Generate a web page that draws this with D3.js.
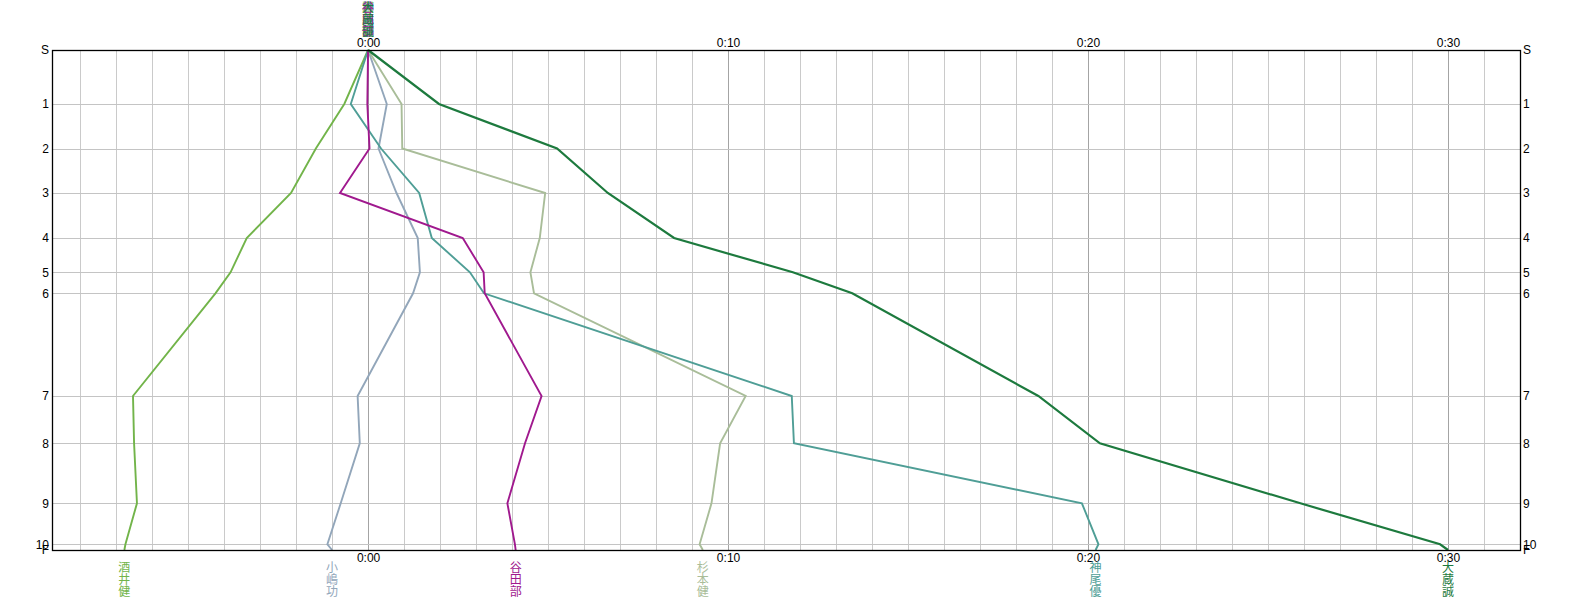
<!DOCTYPE html>
<html><head><meta charset="utf-8">
<script src="https://cdn.jsdelivr.net/npm/d3@7"></script>
<style>
html,body{margin:0;padding:0;background:#fff;}
svg{display:block;}
.tick text{font-family:"Liberation Sans",Arial,sans-serif;}
</style></head>
<body>
<svg id="chart" width="1572" height="600"></svg>
<script>
// checkpoints (cumulative course distance, m)
const checkpoints = ["S","1","2","3","4","5","6","7","8","9","10","F"];
const cumDist = [0,540,985,1430,1880,2223,2433,3460,3933,4533,4943,5000];
// runners
const runnerNames = ["酒井健","小嶋功","杉本健","神尾優","谷田部","大蔵誠"];
const runnerColors = ["#72b44a","#92a6ba","#a9bd99","#4f9e96","#a0198e","#1d7a3e"];
// time gap vs reference at each checkpoint (minutes)
const sakai    = [0,-0.66,-1.45,-2.14,-3.37,-3.82,-4.24,-6.53,-6.50,-6.42,-6.74,-6.77];
const kojima   = [0,0.52,0.29,0.79,1.38,1.44,1.25,-0.29,-0.23,-0.76,-1.13,-1.0];
const sugimoto = [0,0.93,0.95,4.92,4.77,4.51,4.61,10.49,9.78,9.54,9.21,9.3];
const kamio    = [0,-0.48,0.36,1.42,1.77,2.83,3.22,11.77,11.83,19.83,20.29,20.21];
const yatabe   = [0,-0.02,0.04,-0.78,2.63,3.21,3.24,4.82,4.36,3.87,4.08,4.1];
const okura    = [0,1.97,5.25,6.66,8.5,11.8,13.45,18.62,20.33,25.9,29.78,30.0];
const series = [sakai,kojima,sugimoto,kamio,yatabe,okura];
// time axis ticks
const tickValues = [0,10,20,30];
const tickLabels = ["0:00","0:10","0:20","0:30"];
const timeDomain = [-8.78,32];

const L=52,R=1520,T=50,B=550;
const svg=d3.select("#chart");
const x=d3.scaleLinear().domain(timeDomain).range([L,R]);
const y=d3.scaleLinear().domain([0,cumDist[cumDist.length-1]]).range([T,B]);

// vertical grid (every minute)
const minutes=d3.range(Math.ceil(timeDomain[0]),Math.floor(timeDomain[1])+1);
svg.append("g").selectAll("line").data(minutes).join("line")
  .attr("x1",d=>Math.round(x(d))+0.5).attr("x2",d=>Math.round(x(d))+0.5)
  .attr("y1",T).attr("y2",B)
  .attr("stroke",d=>d%10===0?"#a4a4a4":"#cacaca").attr("stroke-width",1);
// horizontal grid (checkpoints)
svg.append("g").selectAll("line").data(cumDist.slice(1,-1)).join("line")
  .attr("x1",L).attr("x2",R)
  .attr("y1",d=>Math.round(y(d))+0.5).attr("y2",d=>Math.round(y(d))+0.5)
  .attr("stroke","#c4c4c4").attr("stroke-width",1);

// lines
const line=d3.line().x(d=>x(d[0])).y(d=>y(d[1]));
series.forEach((s,i)=>{
  svg.append("path").datum(s.map((v,j)=>[v,cumDist[j]]))
    .attr("d",line).attr("fill","none")
    .attr("stroke",runnerColors[i]).attr("stroke-width",i===5?2.2:1.9)
    .attr("stroke-linejoin","miter");
});

// border
svg.append("rect").attr("x",L+0.5).attr("y",T+0.5).attr("width",R-L).attr("height",B-T)
  .attr("fill","none").attr("stroke","#000").attr("stroke-width",1.3);

// time axes top/bottom
const fmt=d=>tickLabels[tickValues.indexOf(d)];
const topAxis=d3.axisTop(x).tickValues(tickValues).tickFormat(fmt).tickSize(0).tickPadding(3);
const botAxis=d3.axisBottom(x).tickValues(tickValues).tickFormat(fmt).tickSize(0).tickPadding(3);
const gt=svg.append("g").attr("transform",`translate(0,${T})`).call(topAxis);
const gb=svg.append("g").attr("transform",`translate(0,${B})`).call(botAxis);
[gt,gb].forEach(g=>{g.select(".domain").remove();g.selectAll("text").attr("font-size",12).attr("fill","#000");});

// checkpoint axes left/right
const yl=d3.axisLeft(y).tickValues(cumDist).tickFormat((d,i)=>checkpoints[i]).tickSize(0).tickPadding(3);
const yr=d3.axisRight(y).tickValues(cumDist).tickFormat((d,i)=>checkpoints[i]).tickSize(0).tickPadding(3);
const gl=svg.append("g").attr("transform",`translate(${L},0)`).call(yl);
const gr=svg.append("g").attr("transform",`translate(${R},0)`).call(yr);
[gl,gr].forEach(g=>{g.select(".domain").remove();g.selectAll("text").attr("font-size",12).attr("fill","#000")
  .attr("font-family","'Liberation Sans Narrow','DejaVu Sans Condensed',sans-serif");});

// runner names (vertical), at start (top) and at finish (bottom)
const cjk="'Noto Sans CJK JP',sans-serif";
series.forEach((s,i)=>{
  const chars=Array.from(runnerNames[i]);
  const xs=x(s[0]), xf=x(s[s.length-1]);
  chars.forEach((c,k)=>{
    svg.append("text").attr("x",xs).attr("y",12+k*12).attr("text-anchor","middle")
      .attr("font-family",cjk).attr("font-size",12).attr("fill",runnerColors[i]).text(c);
    svg.append("text").attr("x",xf).attr("y",572+k*12).attr("text-anchor","middle")
      .attr("font-family",cjk).attr("font-size",12).attr("fill",runnerColors[i]).text(c);
  });
});
</script>
</body></html>
